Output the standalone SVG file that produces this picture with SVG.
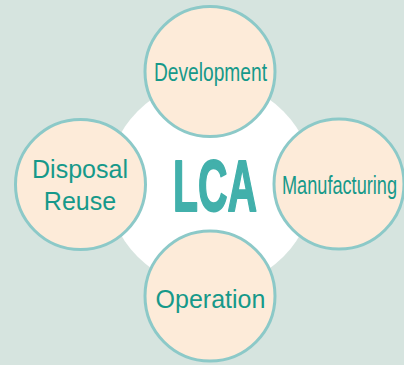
<svg xmlns="http://www.w3.org/2000/svg" width="404" height="365" viewBox="0 0 404 365">
<style>
.stage{fill:#fdebd9;stroke:#8cc9c8;stroke-width:3}
.lbl{font-family:"Liberation Sans",Arial,sans-serif;font-size:25px;fill:#16998a;text-anchor:middle}
</style>
<rect width="404" height="365" fill="#d6e4df"/>
<g id="connectors"></g>
<g id="center">
<circle cx="210.5" cy="184" r="103" fill="#ffffff"/>
<text x="215" y="210.5" font-family="Liberation Sans,Arial,sans-serif" font-weight="bold" font-size="73" fill="#42b0ab" stroke="#42b0ab" stroke-width="2" stroke-linejoin="round" text-anchor="middle" textLength="84" lengthAdjust="spacingAndGlyphs">LCA</text>
</g>
<g id="development">
<circle class="stage" cx="210" cy="71.5" r="65"/>
<text class="lbl" x="210.5" y="81" textLength="113" lengthAdjust="spacingAndGlyphs">Development</text>
</g>
<g id="manufacturing">
<circle class="stage" cx="339" cy="184" r="65"/>
<text class="lbl" x="339.5" y="194" textLength="115" lengthAdjust="spacingAndGlyphs">Manufacturing</text>
</g>
<g id="operation">
<circle class="stage" cx="210" cy="296" r="65"/>
<text class="lbl" x="210.5" y="308">Operation</text>
</g>
<g id="disposal-reuse">
<circle class="stage" cx="80.5" cy="184.5" r="65"/>
<text class="lbl" x="80" y="178">Disposal</text>
<text class="lbl" x="80" y="210">Reuse</text>
</g>
</svg>
